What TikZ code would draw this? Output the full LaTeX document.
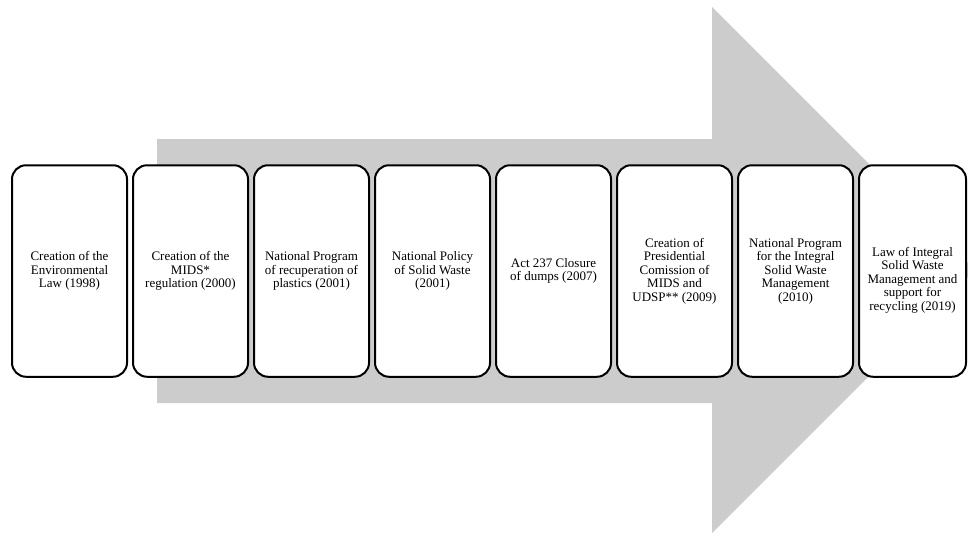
\documentclass[tikz,border=0pt]{standalone}
\usepackage{fontspec}
\setmainfont{Liberation Serif}
\definecolor{arrowgray}{RGB}{204,204,204}
\begin{document}
\begin{tikzpicture}[x=1pt,y=-1pt,
  stage/.style={draw=black, line width=2pt, fill=white, rounded corners=14pt,
    minimum width=115pt, minimum height=211.5pt, inner sep=0pt,
    align=center, font=\fontsize{13}{13.5}\selectfont},
  bigarrow/.style={fill=arrowgray, draw=none}]
  \useasboundingbox (0,0) rectangle (968,533);
  \clip (0,0) rectangle (968,533);
  % background block arrow
  \fill[bigarrow] (157,139) -- (712,139) -- (712,7) -- (975,270)
    -- (712,533) -- (712,403) -- (157,403) -- cycle;
  % timeline stages
  \node[stage] (s1) at (69.5,271) {Creation of the\\Environmental\\Law (1998)};
  \node[stage] (s2) at (190.5,271) {Creation of the\\MIDS*\\regulation (2000)};
  \node[stage] (s3) at (311.5,271) {National Program\\of recuperation of\\plastics (2001)};
  \node[stage] (s4) at (432.5,271) {National Policy\\of Solid Waste\\(2001)};
  \node[stage] (s5) at (553.5,271) {Act 237 Closure\\of dumps (2007)};
  \node[stage] (s6) at (674.5,271) {Creation of\\Presidential\\Comission of\\MIDS and\\UDSP** (2009)};
  \node[stage] (s7) at (795.5,271) {National Program\\for the Integral\\Solid Waste\\Management\\(2010)};
  \node[stage, minimum width=107pt] (s8) at (912.5,271) {};
  \node[align=center, font=\fontsize{13}{13.5}\selectfont, inner sep=0pt]
    (s8text) at ([yshift=-9pt]s8.center)
    {Law of Integral\\Solid Waste\\Management and\\support for\\recycling (2019)};
\end{tikzpicture}
\end{document}
